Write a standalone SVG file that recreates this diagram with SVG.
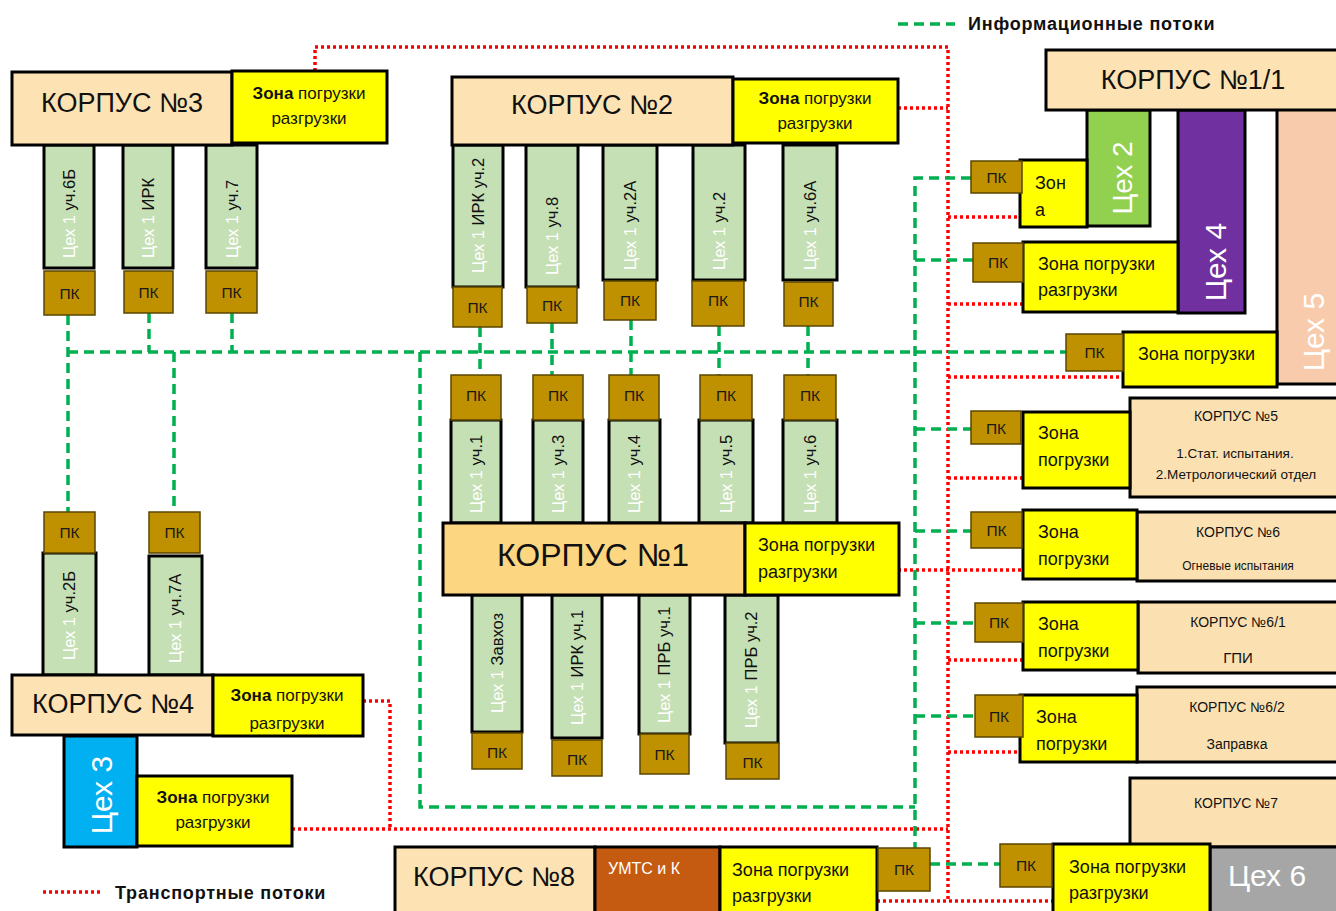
<svg xmlns="http://www.w3.org/2000/svg" width="1336" height="911" viewBox="0 0 1336 911">
<style>
text{font-family:"Liberation Sans","Noto Sans",Arial,sans-serif;fill:#111}
.korp{fill:#fde3b3;stroke:#000;stroke-width:3}
.korp1{fill:#fdd682;stroke:#000;stroke-width:3}
.korps{fill:#fbe1b2;stroke:#000;stroke-width:3}
.zone{fill:#ffff00;stroke:#000;stroke-width:3}
.col{fill:#c5e0b4;stroke:#000;stroke-width:3}
.pk{fill:#bf9000;stroke:#5a4500;stroke-width:1.5}
.pkt{font-size:15.5px;text-anchor:middle;dominant-baseline:central;fill:#1a1a1a}
.big{font-size:27px;text-anchor:middle}
.zt{font-size:17px}
.zt2{font-size:18px}
.ct{font-size:16.5px;dominant-baseline:central}
.w{fill:#ffffff}
.k{fill:#111}
.sm{font-size:13.5px;text-anchor:middle}
.tseh{font-size:30px;fill:#fff;text-anchor:middle;dominant-baseline:central}
.info{fill:none;stroke:#00b050;stroke-width:3.5;stroke-dasharray:10 6}
.tran{fill:none;stroke:#ff0000;stroke-width:3.5;stroke-dasharray:3 3}
.leg{font-size:18px;font-weight:bold;letter-spacing:0.8px}
</style>
<defs>
<clipPath id="clipK4z"><rect x="214" y="676" width="148" height="58"/></clipPath>
</defs>

<g id="connectors">
<path class="tran" d="M315 71 V47 H948 V902"/>
<path class="tran" d="M898 108 H948"/>
<path class="tran" d="M948 217 H1020"/>
<path class="tran" d="M948 304 H1023"/>
<path class="tran" d="M948 377 H1123"/>
<path class="tran" d="M948 478 H1023"/>
<path class="tran" d="M898 570 H1023"/>
<path class="tran" d="M948 660 H1023"/>
<path class="tran" d="M948 752 H1020"/>
<path class="tran" d="M363 701 H390 V828"/>
<path class="tran" d="M292 829 H948"/>
<path class="tran" d="M877 901 H1053"/>
<path class="info" d="M68 315 V512"/>
<path class="info" d="M149 313 V352"/>
<path class="info" d="M232 313 V352"/>
<path class="info" d="M174 352 V512"/>
<path class="info" d="M68 352 H1066"/>
<path class="info" d="M420 352 V807 H915"/>
<path class="info" d="M480 327 V375"/>
<path class="info" d="M552 323 V375"/>
<path class="info" d="M631 320 V375"/>
<path class="info" d="M719 326 V375"/>
<path class="info" d="M808 326 V375"/>
<path class="info" d="M971 178 H915 V848"/>
<path class="info" d="M915 260 H973"/>
<path class="info" d="M915 429 H971"/>
<path class="info" d="M915 531 H971"/>
<path class="info" d="M915 623 H975"/>
<path class="info" d="M915 716 H975"/>
<path class="info" d="M930 864 H1000"/>
</g>

<g id="legend">
<path class="info" d="M898 24 H955"/>
<text class="leg" x="968" y="30">Информационные  потоки</text>
<path class="tran" d="M43 892 H103"/>
<text class="leg" x="115" y="899">Транспортные  потоки</text>
</g>

<g id="korpus3">
<rect class="col" x="44" y="145" width="50" height="123"/>
<rect class="col" x="123" y="145" width="50" height="123"/>
<rect class="col" x="206" y="145" width="51" height="123"/>
<text class="ct" transform="translate(69,258) rotate(-90)"><tspan class="w">Цех 1</tspan><tspan class="k"> уч.6Б</tspan></text>
<text class="ct" transform="translate(148,258) rotate(-90)"><tspan class="w">Цех 1</tspan><tspan class="k"> ИРК</tspan></text>
<text class="ct" transform="translate(232,258) rotate(-90)"><tspan class="w">Цех 1</tspan><tspan class="k"> уч.7</tspan></text>
<rect class="pk" x="44" y="271" width="51" height="44"/><text class="pkt" x="69.5" y="293">ПК</text>
<rect class="pk" x="124" y="271" width="49" height="42"/><text class="pkt" x="148.5" y="292">ПК</text>
<rect class="pk" x="206" y="271" width="51" height="42"/><text class="pkt" x="231.5" y="292">ПК</text>
<rect class="korp" x="12" y="72" width="220" height="73"/>
<text class="big" x="122" y="112">КОРПУС №3</text>
<rect class="zone" x="232" y="71" width="155" height="72"/>
<text class="zt" x="309" y="99" text-anchor="middle"><tspan font-weight="bold">Зона</tspan> погрузки</text>
<text class="zt" x="309" y="124" text-anchor="middle">разгрузки</text>
</g>

<g id="korpus2">
<rect class="col" x="453" y="145" width="50" height="142"/>
<rect class="col" x="526" y="145" width="52" height="142"/>
<rect class="col" x="603" y="145" width="54" height="135"/>
<rect class="col" x="693" y="145" width="52" height="135"/>
<rect class="col" x="783" y="145" width="54" height="135"/>
<text class="ct" transform="translate(478,273) rotate(-90)"><tspan class="w">Цех 1</tspan><tspan class="k"> ИРК уч.2</tspan></text>
<text class="ct" transform="translate(552,275) rotate(-90)"><tspan class="w">Цех 1</tspan><tspan class="k"> уч.8</tspan></text>
<text class="ct" transform="translate(630,270) rotate(-90)"><tspan class="w">Цех 1</tspan><tspan class="k"> уч.2А</tspan></text>
<text class="ct" transform="translate(719,270) rotate(-90)"><tspan class="w">Цех 1</tspan><tspan class="k"> уч.2</tspan></text>
<text class="ct" transform="translate(810,270) rotate(-90)"><tspan class="w">Цех 1</tspan><tspan class="k"> уч.6А</tspan></text>
<rect class="pk" x="453" y="287" width="49" height="40"/><text class="pkt" x="477.5" y="307">ПК</text>
<rect class="pk" x="527" y="287" width="50" height="36"/><text class="pkt" x="552" y="305">ПК</text>
<rect class="pk" x="604" y="281" width="52" height="39"/><text class="pkt" x="630" y="300">ПК</text>
<rect class="pk" x="692" y="281" width="52" height="45"/><text class="pkt" x="718" y="300">ПК</text>
<rect class="pk" x="784" y="282" width="49" height="44"/><text class="pkt" x="808.5" y="301">ПК</text>
<rect class="korp" x="452" y="77" width="281" height="68"/>
<text class="big" x="592" y="114">КОРПУС №2</text>
<rect class="zone" x="733" y="79" width="165" height="64"/>
<text class="zt" x="815" y="104" text-anchor="middle"><tspan font-weight="bold">Зона</tspan> погрузки</text>
<text class="zt" x="815" y="129" text-anchor="middle">разгрузки</text>
</g>

<g id="korpus1">
<rect class="col" x="451" y="420" width="50" height="103"/>
<rect class="col" x="533" y="420" width="50" height="103"/>
<rect class="col" x="609" y="420" width="51" height="103"/>
<rect class="col" x="699" y="420" width="54" height="103"/>
<rect class="col" x="783" y="420" width="54" height="103"/>
<text class="ct" transform="translate(476,513) rotate(-90)"><tspan class="w">Цех 1</tspan><tspan class="k"> уч.1</tspan></text>
<text class="ct" transform="translate(558,513) rotate(-90)"><tspan class="w">Цех 1</tspan><tspan class="k"> уч.3</tspan></text>
<text class="ct" transform="translate(634,513) rotate(-90)"><tspan class="w">Цех 1</tspan><tspan class="k"> уч.4</tspan></text>
<text class="ct" transform="translate(726,513) rotate(-90)"><tspan class="w">Цех 1</tspan><tspan class="k"> уч.5</tspan></text>
<text class="ct" transform="translate(810,513) rotate(-90)"><tspan class="w">Цех 1</tspan><tspan class="k"> уч.6</tspan></text>
<rect class="pk" x="451" y="375" width="50" height="45"/><text class="pkt" x="476" y="395">ПК</text>
<rect class="pk" x="533" y="375" width="50" height="45"/><text class="pkt" x="558" y="395">ПК</text>
<rect class="pk" x="609" y="375" width="50" height="45"/><text class="pkt" x="634" y="395">ПК</text>
<rect class="pk" x="700" y="375" width="52" height="45"/><text class="pkt" x="726" y="395">ПК</text>
<rect class="pk" x="784" y="375" width="52" height="45"/><text class="pkt" x="810" y="395">ПК</text>
<rect class="col" x="472" y="595" width="50" height="137"/>
<rect class="col" x="552" y="595" width="50" height="143"/>
<rect class="col" x="639" y="595" width="51" height="139"/>
<rect class="col" x="725" y="595" width="53" height="148"/>
<text class="ct" transform="translate(497,713) rotate(-90)"><tspan class="w">Цех 1</tspan><tspan class="k"> Завхоз</tspan></text>
<text class="ct" transform="translate(577,725) rotate(-90)"><tspan class="w">Цех 1</tspan><tspan class="k"> ИРК уч.1</tspan></text>
<text class="ct" transform="translate(664,723) rotate(-90)"><tspan class="w">Цех 1</tspan><tspan class="k"> ПРБ уч.1</tspan></text>
<text class="ct" transform="translate(751,728) rotate(-90)"><tspan class="w">Цех 1</tspan><tspan class="k"> ПРБ уч.2</tspan></text>
<rect class="pk" x="472" y="733" width="50" height="36"/><text class="pkt" x="497" y="752">ПК</text>
<rect class="pk" x="552" y="740" width="50" height="36"/><text class="pkt" x="577" y="759">ПК</text>
<rect class="pk" x="640" y="734" width="49" height="40"/><text class="pkt" x="664.5" y="754">ПК</text>
<rect class="pk" x="726" y="743" width="53" height="36"/><text class="pkt" x="752.5" y="762">ПК</text>
<rect class="korp1" x="443" y="523" width="302" height="72"/>
<text class="big" x="593" y="566" style="font-size:32px">КОРПУС №1</text>
<rect class="zone" x="745" y="523" width="154" height="72"/>
<text class="zt2" x="758" y="551">Зона погрузки</text>
<text class="zt2" x="758" y="578">разгрузки</text>
</g>

<g id="korpus4">
<rect class="col" x="43" y="553" width="53" height="122"/>
<rect class="col" x="149" y="556" width="53" height="119"/>
<text class="ct" transform="translate(69,660) rotate(-90)"><tspan class="w">Цех 1</tspan><tspan class="k"> уч.2Б</tspan></text>
<text class="ct" transform="translate(175,663) rotate(-90)"><tspan class="w">Цех 1</tspan><tspan class="k"> уч.7А</tspan></text>
<rect class="pk" x="44" y="512" width="51" height="41"/><text class="pkt" x="69.5" y="532">ПК</text>
<rect class="pk" x="149" y="512" width="51" height="41"/><text class="pkt" x="174.5" y="532">ПК</text>
<rect class="korp" x="12" y="675" width="201" height="60"/>
<text class="big" x="113" y="713">КОРПУС №4</text>
<rect class="zone" x="213" y="675" width="150" height="61"/>
<g clip-path="url(#clipK4z)">
<text class="zt" x="287" y="701" text-anchor="middle"><tspan font-weight="bold">Зона</tspan> погрузки</text>
<text class="zt" x="287" y="729" text-anchor="middle">разгрузки</text>
</g>
</g>

<g id="tseh3">
<rect x="64" y="736" width="73" height="111" fill="#00b0f0" stroke="#000" stroke-width="3"/>
<text class="tseh" transform="translate(101,795) rotate(-90)">Цех 3</text>
<rect class="zone" x="137" y="776" width="155" height="70"/>
<text class="zt" x="213" y="803" text-anchor="middle"><tspan font-weight="bold">Зона</tspan> погрузки</text>
<text class="zt" x="213" y="828" text-anchor="middle">разгрузки</text>
</g>

<g id="korpus8">
<rect class="korp" x="395" y="847" width="200" height="70"/>
<text class="big" x="494" y="886">КОРПУС №8</text>
<rect x="595" y="847" width="125" height="70" fill="#c55a11" stroke="#000" stroke-width="3"/>
<text x="608" y="874" font-size="16px" style="fill:#fff">УМТС и К</text>
<rect class="zone" x="720" y="847" width="157" height="70"/>
<text class="zt2" x="732" y="876">Зона погрузки</text>
<text class="zt2" x="732" y="902">разгрузки</text>
<rect class="pk" x="878" y="848" width="52" height="43"/><text class="pkt" x="904" y="869">ПК</text>
</g>

<g id="korpus11">
<rect x="1277" y="108" width="66" height="276" fill="#f8cbad" stroke="#000" stroke-width="3"/>
<text class="tseh" transform="translate(1313,332) rotate(-90)">Цех 5</text>
<rect x="1087" y="110" width="63" height="116" fill="#92d050" stroke="#000" stroke-width="3"/>
<text class="tseh" style="font-size:28px" transform="translate(1122,178) rotate(-90)">Цех 2</text>
<rect x="1178" y="110" width="67" height="203" fill="#7030a0" stroke="#000" stroke-width="3"/>
<text class="tseh" transform="translate(1215,262) rotate(-90)">Цех 4</text>
<rect class="korp" x="1046" y="50" width="295" height="60"/>
<text class="big" x="1193" y="89">КОРПУС №1/1</text>
<rect class="zone" x="1020" y="160" width="67" height="67"/>
<text class="zt2" x="1035" y="189">Зон</text>
<text class="zt2" x="1035" y="216">а</text>
<rect class="pk" x="971" y="161" width="51" height="32"/><text class="pkt" x="996.5" y="177">ПК</text>
<rect class="zone" x="1023" y="242" width="155" height="70"/>
<text class="zt2" x="1038" y="270">Зона погрузки</text>
<text class="zt2" x="1038" y="296">разгрузки</text>
<rect class="pk" x="973" y="243" width="50" height="39"/><text class="pkt" x="998" y="262">ПК</text>
<rect class="zone" x="1123" y="332" width="154" height="55"/>
<text class="zt2" x="1138" y="360">Зона погрузки</text>
<rect class="pk" x="1066" y="334" width="57" height="37"/><text class="pkt" x="1094.5" y="352">ПК</text>
</g>

<g id="korpus5">
<rect class="korps" x="1130" y="398" width="211" height="99"/>
<text class="sm" x="1236" y="421" style="font-size:14px">КОРПУС №5</text>
<text class="sm" x="1235" y="458" style="font-size:13.5px">1.Стат. испытания.</text>
<text class="sm" x="1236" y="479" style="font-size:13.5px">2.Метрологический отдел</text>
<rect class="zone" x="1023" y="412" width="107" height="76"/>
<text class="zt2" x="1038" y="439">Зона</text>
<text class="zt2" x="1038" y="466">погрузки</text>
<rect class="pk" x="971" y="411" width="50" height="33"/><text class="pkt" x="996" y="428">ПК</text>
</g>

<g id="korpus6">
<rect class="korps" x="1137" y="512" width="204" height="69"/>
<text class="sm" x="1238" y="537" style="font-size:14px">КОРПУС №6</text>
<text class="sm" x="1238" y="570" style="font-size:12px">Огневые испытания</text>
<rect class="zone" x="1023" y="510" width="114" height="69"/>
<text class="zt2" x="1038" y="538">Зона</text>
<text class="zt2" x="1038" y="565">погрузки</text>
<rect class="pk" x="971" y="512" width="51" height="36"/><text class="pkt" x="996.5" y="530">ПК</text>
</g>

<g id="korpus61">
<rect class="korps" x="1138" y="602" width="203" height="71"/>
<text class="sm" x="1238" y="627" style="font-size:14px">КОРПУС №6/1</text>
<text class="sm" x="1238" y="663" style="font-size:15px">ГПИ</text>
<rect class="zone" x="1023" y="602" width="115" height="68"/>
<text class="zt2" x="1038" y="630">Зона</text>
<text class="zt2" x="1038" y="657">погрузки</text>
<rect class="pk" x="975" y="603" width="48" height="39"/><text class="pkt" x="999" y="622">ПК</text>
</g>

<g id="korpus62">
<rect class="korps" x="1137" y="687" width="204" height="75"/>
<text class="sm" x="1237" y="712" style="font-size:14px">КОРПУС №6/2</text>
<text class="sm" x="1237" y="749" style="font-size:14px">Заправка</text>
<rect class="zone" x="1020" y="695" width="117" height="67"/>
<text class="zt2" x="1036" y="723">Зона</text>
<text class="zt2" x="1036" y="750">погрузки</text>
<rect class="pk" x="975" y="695" width="48" height="42"/><text class="pkt" x="999" y="716">ПК</text>
</g>

<g id="korpus7">
<rect class="korps" x="1130" y="778" width="211" height="69"/>
<text class="sm" x="1236" y="808" style="font-size:14px">КОРПУС №7</text>
<rect x="1210" y="847" width="131" height="70" fill="#a6a6a6" stroke="#000" stroke-width="3"/>
<text x="1267" y="886" font-size="30px" text-anchor="middle" style="fill:#fff">Цех 6</text>
<rect class="zone" x="1053" y="844" width="157" height="73"/>
<text class="zt2" x="1069" y="873">Зона погрузки</text>
<text class="zt2" x="1069" y="899">разгрузки</text>
<rect class="pk" x="1000" y="844" width="52" height="43"/><text class="pkt" x="1026" y="865">ПК</text>
</g>
</svg>
